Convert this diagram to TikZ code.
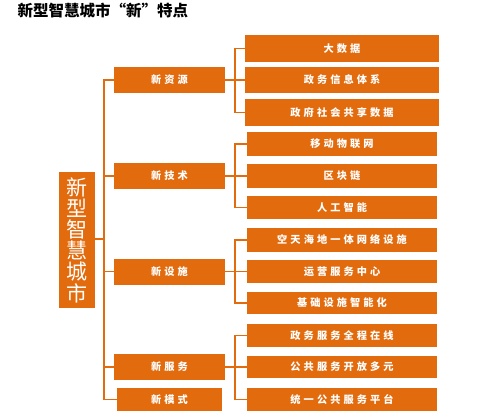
\documentclass[tikz,border=0pt]{standalone}
\usepackage{fontspec}
\newfontfamily\cjk{Noto Sans CJK SC}
\newfontfamily\cjkbox[LetterSpace=30]{Noto Sans CJK SC}
\definecolor{orng}{HTML}{E26B0E}
\tikzset{
  line/.style={draw=orng, line width=1.4pt},
  obox/.style={fill=orng, text=white, inner sep=0pt, font=\cjkbox\bfseries\fontsize{10.2}{11}\selectfont},
  midbox/.style={obox, minimum width=111, minimum height=26},
  rbox/.style={obox, minimum width=190, minimum height=23},
}
\begin{document}
\begin{tikzpicture}[x=1pt,y=-1pt]
\useasboundingbox (0,0) rectangle (479,418);
\node[anchor=west, font=\cjk\bfseries\fontsize{15.5}{17}\selectfont] (title) at (14,11) {新型智慧城市“新”特点};
% left box
\node[fill=orng, text=white, inner sep=0pt, minimum width=36, minimum height=136, align=center,
  font=\cjk\fontsize{21}{21.2}\selectfont] (L) at (77,240) {新\\型\\智\\慧\\城\\市};
% mid boxes
\node[midbox] (m1) at (169.5,80) {新资源};
\node[midbox] (m2) at (169.5,176) {新技术};
\node[midbox] (m3) at (169.5,271.5) {新设施};
\node[midbox] (m4) at (169.5,367) {新服务};
\node[midbox, minimum width=105, minimum height=23] (m5) at (169.5,399.5) {新模式};
% right boxes
\node[rbox, minimum width=194, minimum height=27] (r1) at (342,48.5) {大数据};
\node[rbox, minimum width=194, minimum height=26] (r2) at (342,80) {政务信息体系};
\node[rbox, minimum width=194, minimum height=27] (r3) at (342,112.5) {政府社会共享数据};
\node[rbox, minimum height=24] (r4) at (342,144) {移动物联网};
\node[rbox, minimum height=24] (r5) at (342,176) {区块链};
\node[rbox] (r6) at (342,207.5) {人工智能};
\node[rbox, minimum height=24] (r7) at (342,240) {空天海地一体网络设施};
\node[rbox] (r8) at (342,271.5) {运营服务中心};
\node[rbox, minimum height=22] (r9) at (342,303) {基础设施智能化};
\node[rbox] (r10) at (342,335.5) {政务服务全程在线};
\node[rbox, minimum height=22] (r11) at (342,367) {公共服务开放多元};
\node[rbox] (r12) at (342,399.5) {统一公共服务平台};
% connectors
\coordinate (tk) at (104,0);
\coordinate (bk) at (235,0);
\draw[line] (m1.west) -- (m1.west -| tk) -- (m5.west -| tk) -- (m5.west);
\draw[line] (L.east |- 0,239) -- (tk |- 0,239);
\foreach \m in {m2,m3,m4} \draw[line] (\m.west) -- (\m.west -| tk);
\draw[line] (r1.west) -- (r1.west -| bk) -- (r3.west -| bk) -- (r3.west);
\draw[line] (r4.west) -- (r4.west -| bk) -- (r6.west -| bk) -- (r6.west);
\draw[line] (r7.west) -- (r7.west -| bk) -- (r9.west -| bk) -- (r9.west);
\draw[line] (r10.west) -- (r10.west -| bk) -- (r12.west -| bk) -- (r12.west);
\draw[line] (m1.east) -- (r2.west);
\draw[line] (m2.east) -- (r5.west);
\draw[line] (m3.east) -- (r8.west);
\draw[line] (m4.east) -- (r11.west);
\end{tikzpicture}
\end{document}
